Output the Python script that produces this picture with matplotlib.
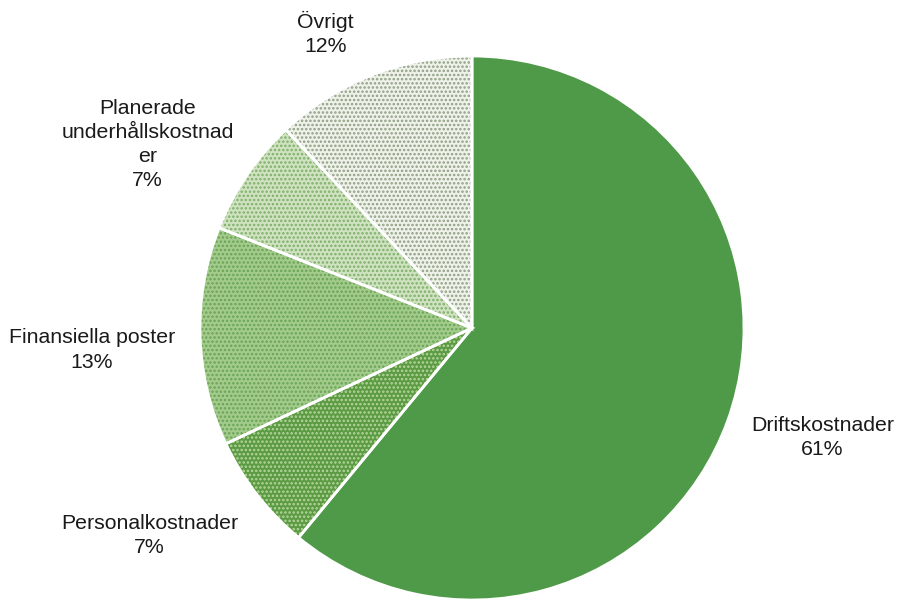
import numpy as np
import matplotlib
matplotlib.use('Agg')
import matplotlib.pyplot as plt

# data
kategorier = ['Driftskostnader', 'Personalkostnader', 'Finansiella poster',
              'Planerade\nunderhållskostnad\ner', 'Övrigt']
andel = [61, 7, 13, 7, 12]

farger = ['#4f9a48', '#5c9a44', '#a3cc8c', '#cfe3c0', '#eef2e8']
prick_farger = ['#4f9a48', '#b5d89c', '#6aa356', '#7fae6b', '#8e9e86']
monster = ['', '....', '....', '....', '....']

plt.rcParams['font.family'] = ['Liberation Sans', 'DejaVu Sans']
plt.rcParams['hatch.linewidth'] = 1.2

fig = plt.figure(figsize=(8.99, 6.02), dpi=100)
r_px = 272
cx, cy = 472, 328
ax = fig.add_axes([(cx - r_px) / 899, (602 - cy - r_px) / 602, 2 * r_px / 899, 2 * r_px / 602])
ax.axis('off')

# faces
w1, _ = ax.pie(andel, startangle=90, counterclock=False, colors=farger,
               wedgeprops=dict(linewidth=0), radius=1, frame=False)
# dot pattern
w2, _ = ax.pie(andel, startangle=90, counterclock=False,
               wedgeprops=dict(linewidth=0, fill=False), radius=1, frame=False)
for w, h, c in zip(w2, monster, prick_farger):
    w.set_hatch(h)
    w.set_edgecolor(c)
# white borders
w3, _ = ax.pie(andel, startangle=90, counterclock=False,
               wedgeprops=dict(linewidth=2, edgecolor='white', fill=False), radius=1, frame=False)

ax.set_xlim(-1, 1)
ax.set_ylim(-1, 1)
ax.set_aspect('auto')

# labels
avstand = [1.35, 1.41, 1.40, 1.37, 1.21]
vrid = [2.5, -5, 1.5, 4.7, 4.9]
for w, namn, p, d, v in zip(w1, kategorier, andel, avstand, vrid):
    vinkel = np.deg2rad((w.theta1 + w.theta2) / 2 + v)
    x = d * np.cos(vinkel)
    y = d * np.sin(vinkel)
    ax.text(x, y, f'{namn}\n{p}%', ha='center', va='center', fontsize=15.3,
            linespacing=1.35, color='#1a1a1a', clip_on=False)

fig.savefig('out.png', dpi=100)
